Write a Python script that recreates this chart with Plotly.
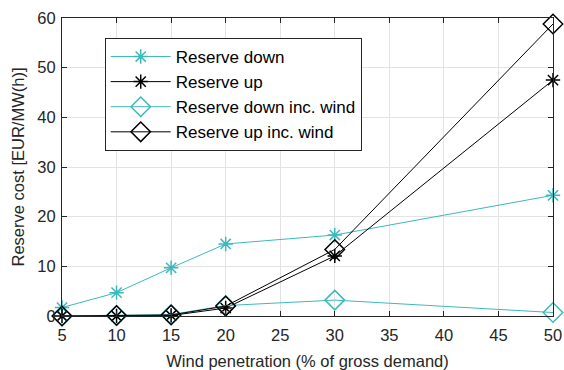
import plotly.graph_objects as go

# Wind penetration levels (% of gross demand)
penetration = [5, 10, 15, 20, 30, 50]

# Reserve costs [EUR/MW(h)]
reserve_down = [1.7, 4.7, 9.7, 14.5, 16.3, 24.3]
reserve_up = [0.0, 0.0, 0.1, 1.6, 12.1, 47.5]
reserve_down_wind = [0.0, 0.1, 0.3, 2.1, 3.2, 0.7]
reserve_up_wind = [0.0, 0.1, 0.2, 2.0, 13.4, 58.8]

x_ticks = [5, 10, 15, 20, 25, 30, 35, 40, 45, 50]
y_ticks = [0, 10, 20, 30, 40, 50, 60]

CYAN = "#3cb9bc"
BLACK = "#000000"
FONT = "Liberation Sans, Arial, sans-serif"

fig = go.Figure()

series = [
    ("Reserve down", reserve_down, CYAN, "asterisk-open", 12),
    ("Reserve up", reserve_up, BLACK, "asterisk-open", 12),
    ("Reserve down inc. wind", reserve_down_wind, CYAN, "diamond-open", 15),
    ("Reserve up inc. wind", reserve_up_wind, BLACK, "diamond-open", 15),
]
for i, (name, vals, color, symbol, size) in enumerate(series):
    fig.add_trace(go.Scatter(
        x=penetration, y=vals, name=name, mode="lines+markers",
        legendgroup=f"g{i}",
        line=dict(color=color, width=1),
        marker=dict(symbol=symbol, size=size, color=color,
                    line=dict(color=color, width=1.5)),
        cliponaxis=False,
    ))

axis_common = dict(
    showline=True, linecolor="#262626", linewidth=1, mirror="ticks",
    ticks="inside", ticklen=5, tickcolor="#262626",
    showgrid=True, gridcolor="#e3e3e3", gridwidth=1,
    zeroline=False, automargin=False,
    tickfont=dict(family=FONT, size=16.5, color="#262626"),
    title_font=dict(family=FONT, size=16.5, color="#262626"),
)

fig.update_xaxes(
    range=[5, 50], tickvals=x_ticks,
    title_text="Wind penetration (% of gross demand)", title_standoff=12,
    ticklabelstandoff=4,
    **axis_common,
)
fig.update_yaxes(
    range=[0, 60], tickvals=y_ticks,
    title_text="Reserve cost [EUR/MW(h)]", title_standoff=8,
    ticklabelstandoff=2,
    **axis_common,
)

fig.update_layout(
    width=564, height=370,
    margin=dict(l=62, r=11, t=18, b=54),
    paper_bgcolor="white", plot_bgcolor="white",
    font=dict(family=FONT, size=17, color="#000000"),
    legend=dict(
        x=0.087, y=0.933, xanchor="left", yanchor="top",
        bgcolor="white", bordercolor="#262626", borderwidth=1,
        font=dict(family=FONT, size=17, color="#000000"),
        tracegroupgap=0, itemwidth=60,
    ),
)

fig.write_html("out.html")
